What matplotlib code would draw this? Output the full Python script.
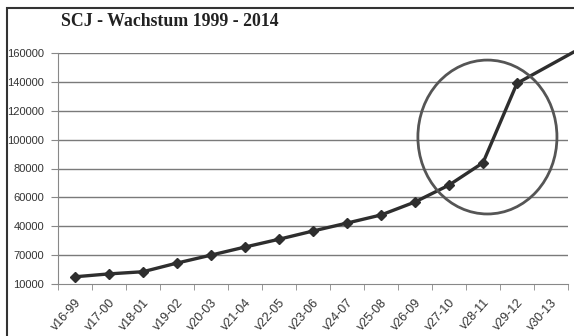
import matplotlib.pyplot as plt
from matplotlib.patches import Ellipse, Rectangle
import matplotlib.transforms as mtransforms
import numpy as np

# Mitgliederzahlen pro Jahrgang
jahre = ["v16-99", "v17-00", "v18-01", "v19-02", "v20-03", "v21-04", "v22-05",
         "v23-06", "v24-07", "v25-08", "v26-09", "v27-10", "v28-11", "v29-12", "v30-13"]
werte = [5000, 7000, 8500, 14500, 20000, 25600, 31000,
         36700, 42200, 47800, 56800, 68500, 84000, 139000, 152000]

y_ticks = [0, 20000, 40000, 60000, 80000, 100000, 120000, 140000, 160000]
y_labels = ["10000", "70000", "40000", "60000", "80000", "100000", "120000", "140000", "160000"]

fig = plt.figure(figsize=(5.74, 3.36), dpi=100)
fig.patch.set_facecolor("white")

# Rahmen um das ganze Diagramm
fig.patches.append(Rectangle((7 / 574, -0.1), 1.2, 1 - 8 / 336 + 0.1,
                             transform=fig.transFigure, fill=False,
                             edgecolor="#333333", linewidth=1.5))

ax = fig.add_axes([58 / 574, 52 / 336, 510 / 574, 231 / 336])
x = np.arange(len(jahre))

ax.set_xlim(-0.5, len(jahre) - 0.5)
ax.set_ylim(0, 160000)

for t in y_ticks[1:]:
    ax.axhline(t, color="#7a7a7a", linewidth=1.0, zorder=1)

# Linie leicht über den letzten Punkt hinaus verlängern
x_ext = x[-1] + 0.65
y_ext = werte[-1] + 0.65 * (werte[-1] - werte[-2])
ax.plot(list(x) + [x_ext], werte + [y_ext], color="#2e2e2e", linewidth=2.4,
        zorder=3, clip_on=False)
ax.plot(x[:-1], werte[:-1], linestyle="none", marker="D", markersize=5,
        color="#2e2e2e", zorder=4)

# Kreis um den Sprung 2011/2012
ax.add_patch(Ellipse((12.13, 101800), 4.09, 106600, fill=False,
                     edgecolor="#555555", linewidth=2.0, zorder=5))

ax.set_yticks(y_ticks)
ax.set_yticklabels(y_labels, fontsize=8, color="#333333", family="Liberation Sans")
ax.set_xticks(x)
ax.set_xticklabels(jahre, rotation=48, ha="right", rotation_mode="anchor",
                   fontsize=9, color="#333333", family="Liberation Sans")
shift = mtransforms.ScaledTranslation(5 / 100, 0, fig.dpi_scale_trans)
for lbl in ax.get_xticklabels():
    lbl.set_transform(lbl.get_transform() + shift)
ax.set_xticks(np.arange(len(jahre) + 1) - 0.5, minor=True)
ax.tick_params(axis="x", which="major", length=0, pad=9)
ax.tick_params(axis="x", which="minor", length=4, color="#888888", direction="out")
ax.tick_params(axis="y", length=5, color="#888888", pad=5)

for side in ["top", "right"]:
    ax.spines[side].set_visible(False)
ax.spines["left"].set_color("#888888")
ax.spines["bottom"].set_color("#888888")

fig.text(170 / 574, 1 - 21 / 336, "SCJ - Wachstum 1999 - 2014", ha="center", va="center",
         fontsize=12.8, fontweight="bold", family="Liberation Serif", color="#222222")

fig.savefig("out.png", dpi=100)
